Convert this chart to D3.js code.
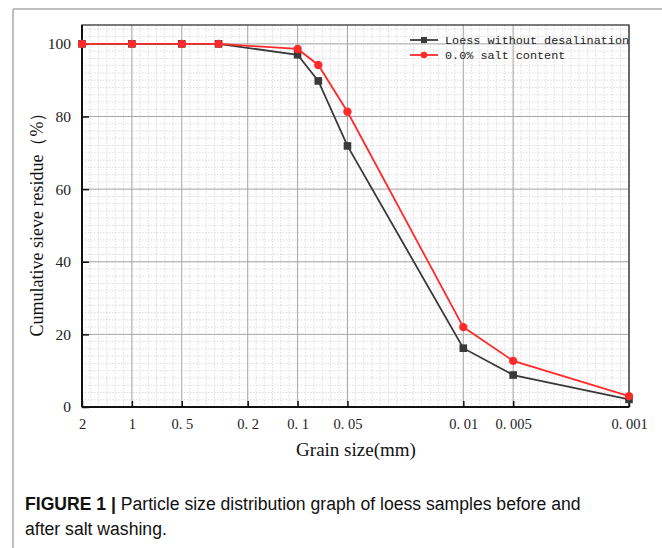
<!DOCTYPE html>
<html><head><meta charset="utf-8">
<script src="https://cdn.jsdelivr.net/npm/d3@7"></script>
<style>body{margin:0;background:#fff}svg{display:block}</style>
</head><body>
<svg id="c" width="662" height="548"></svg>
<script>
const grainSizes = [2, 1, 0.5, 0.3, 0.1, 0.075, 0.05, 0.01, 0.005, 0.001];
const loessWithout = [100, 100, 100, 100, 97.0, 89.8, 71.9, 16.2, 8.8, 2.1];
const salt00 = [100, 100, 100, 100, 98.6, 94.2, 81.3, 22.0, 12.7, 3.0];
const xTickValues = [2, 1, 0.5, 0.2, 0.1, 0.05, 0.01, 0.005, 0.001];
const xTickLabels = ["2", "1", "0. 5", "0. 2", "0. 1", "0. 05", "0. 01", "0. 005", "0. 001"];
const yTickValues = [0, 20, 40, 60, 80, 100];
const seriesNames = ["Loess without desalination", "0.0% salt content"];

const svg = d3.select("#c");
const L = 82, R = 629, T = 25, B = 407;
const x = d3.scaleLog().domain([2, 0.001]).range([L, R]);
const y = d3.scaleLinear().domain([0, 105.2]).range([B, T]);

// page frame
svg.append("line").attr("x1", 13).attr("x2", 662).attr("y1", 9).attr("y2", 9).attr("stroke", "#aaa").attr("stroke-width", 1.5);
svg.append("line").attr("x1", 13).attr("x2", 13).attr("y1", 9).attr("y2", 548).attr("stroke", "#aaa").attr("stroke-width", 1.5);

// minor grid
const g = svg.append("g");
const minorX = d3.range(0, 67).map(k => 2 * Math.pow(10, -k / 20)).filter(v => v > 0.001 && v < 2);
g.selectAll(".mx").data(minorX).join("line")
  .attr("x1", d => x(d)).attr("x2", d => x(d)).attr("y1", T).attr("y2", B)
  .attr("stroke", "#d4d4d4").attr("stroke-width", 0.8).attr("stroke-dasharray", "1.5,1.5");
const minorY = d3.range(2, 105, 2);
g.selectAll(".my").data(minorY).join("line")
  .attr("x1", L).attr("x2", R).attr("y1", d => y(d)).attr("y2", d => y(d))
  .attr("stroke", "#d4d4d4").attr("stroke-width", 0.8).attr("stroke-dasharray", "1.5,1.5");
// major grid
g.selectAll(".gx").data(xTickValues).join("line")
  .attr("x1", d => x(d)).attr("x2", d => x(d)).attr("y1", T).attr("y2", B)
  .attr("stroke", "#a8a8a8").attr("stroke-width", 1);
g.selectAll(".gy").data(yTickValues.filter(v => v > 0)).join("line")
  .attr("x1", L).attr("x2", R).attr("y1", d => y(d)).attr("y2", d => y(d))
  .attr("stroke", "#a8a8a8").attr("stroke-width", 1);

// frame
svg.append("rect").attr("x", L).attr("y", T).attr("width", R - L).attr("height", B - T)
  .attr("fill", "none").attr("stroke", "#333").attr("stroke-width", 1.3);
svg.append("line").attr("x1", L).attr("x2", R).attr("y1", B).attr("y2", B).attr("stroke", "#111").attr("stroke-width", 2);
svg.append("line").attr("x1", L).attr("x2", L).attr("y1", T).attr("y2", B).attr("stroke", "#111").attr("stroke-width", 2);

// axes
const xAxis = d3.axisBottom(x).tickValues(xTickValues).tickSizeInner(-6).tickSizeOuter(0)
  .tickPadding(12).tickFormat((d, i) => xTickLabels[i]);
const xa = svg.append("g").attr("transform", `translate(0,${B})`).call(xAxis);
xa.select(".domain").remove();
xa.selectAll("line").attr("stroke", "#111").attr("stroke-width", 1.5);
xa.selectAll("text").attr("font-family", "'Liberation Serif', 'DejaVu Serif', serif").attr("font-size", 14.5).attr("fill", "#222");

const yAxis = d3.axisLeft(y).tickValues(yTickValues).tickSizeInner(-7).tickSizeOuter(0).tickPadding(11);
const ya = svg.append("g").attr("transform", `translate(${L},0)`).call(yAxis);
ya.select(".domain").remove();
ya.selectAll("line").attr("stroke", "#111").attr("stroke-width", 1.5);
ya.selectAll("text").attr("font-family", "'Liberation Serif', 'DejaVu Serif', serif").attr("font-size", 15.5).attr("fill", "#222");

// axis titles
svg.append("text").attr("x", 356).attr("y", 456).attr("text-anchor", "middle")
  .attr("font-family", "'Liberation Serif', serif").attr("font-size", 19).attr("fill", "#111")
  .text("Grain size(mm)");
svg.append("text").attr("transform", "translate(43,220) rotate(-90)").attr("text-anchor", "middle")
  .attr("font-family", "'Liberation Serif', serif").attr("font-size", 18).attr("fill", "#111")
  .text("Cumulative sieve residue（%）");

// series
const series = [
  {name: seriesNames[0], vals: loessWithout, color: "#3a3a3a", shape: "square"},
  {name: seriesNames[1], vals: salt00, color: "#ff2b2b", shape: "circle"}
];
const line = d3.line().x(d => x(d[0])).y(d => y(d[1]));
series.forEach(s => {
  const pts = grainSizes.map((gs, i) => [gs, s.vals[i]]);
  svg.append("path").attr("d", line(pts)).attr("fill", "none").attr("stroke", s.color).attr("stroke-width", 1.8);
  if (s.shape === "square") {
    svg.selectAll(null).data(pts).join("rect")
      .attr("x", d => x(d[0]) - 3.8).attr("y", d => y(d[1]) - 3.8).attr("width", 7.6).attr("height", 7.6)
      .attr("fill", s.color);
  } else {
    svg.selectAll(null).data(pts).join("circle")
      .attr("cx", d => x(d[0])).attr("cy", d => y(d[1])).attr("r", 4.2).attr("fill", s.color);
  }
});

// legend
const lg = svg.append("g");
series.forEach((s, i) => {
  const ly = 40 + i * 15;
  lg.append("line").attr("x1", 410).attr("x2", 438).attr("y1", ly).attr("y2", ly).attr("stroke", s.color).attr("stroke-width", 1.8);
  if (s.shape === "square") lg.append("rect").attr("x", 421).attr("y", ly - 3).attr("width", 6).attr("height", 6).attr("fill", s.color);
  else lg.append("circle").attr("cx", 424).attr("cy", ly).attr("r", 3.3).attr("fill", s.color);
  lg.append("text").attr("x", 445).attr("y", ly + 4).attr("font-family", "'Liberation Mono', 'DejaVu Sans Mono', monospace")
    .attr("font-size", 11.8).attr("fill", "#222").text(s.name);
});

// caption
const cap = svg.append("text").attr("x", 25).attr("y", 510).attr("font-family", "'Liberation Sans', Arial, sans-serif")
  .attr("font-size", 17.6).attr("fill", "#111");
cap.append("tspan").attr("font-weight", "bold").text("FIGURE 1 | ");
cap.append("tspan").text("Particle size distribution graph of loess samples before and");
svg.append("text").attr("x", 25).attr("y", 535).attr("font-family", "'Liberation Sans', Arial, sans-serif")
  .attr("font-size", 17.6).attr("fill", "#111").text("after salt washing.");
</script>
</body></html>
